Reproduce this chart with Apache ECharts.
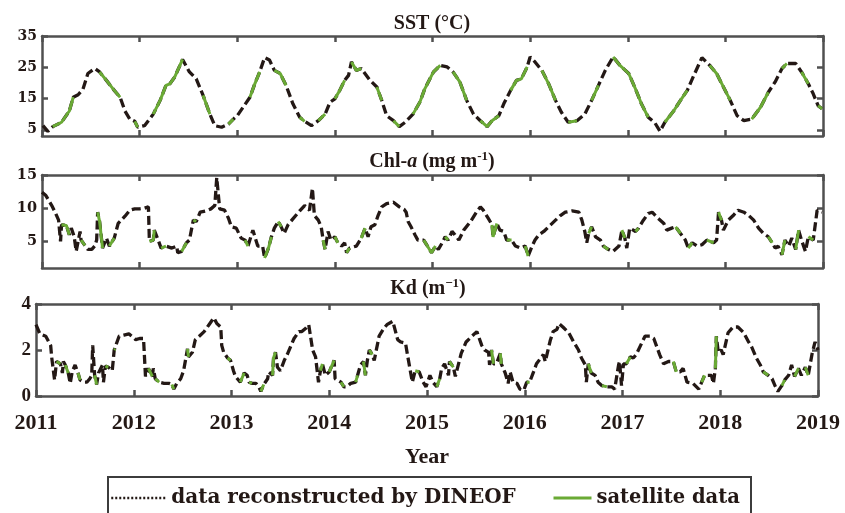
<!DOCTYPE html>
<html>
<head>
<meta charset="utf-8">
<script src="https://cdn.jsdelivr.net/npm/echarts@6/dist/echarts.min.js"></script>
<style>html,body{margin:0;padding:0;background:#fff}#c{width:845px;height:513px}</style>
</head>
<body>
<div id="c"></div>
<script>
// ---------------- DATA ----------------
const yearTicks = [2011, 2012, 2013, 2014, 2015, 2016, 2017, 2018, 2019];
const sstTicks = [5, 15, 25, 35];
const chlTicks = [5, 10, 15];
const kdTicks = [0, 2, 4];

// SST (°C)
const sstYear = [2011.01,2011.06,2011.11,2011.20,2011.28,2011.32,2011.37,2011.42,2011.47,2011.54,2011.59,2011.66,2011.74,2011.80,2011.85,2011.90,2011.95,2011.98,
2012.05,2012.14,2012.21,2012.27,2012.31,2012.36,2012.44,2012.51,2012.58,2012.65,2012.72,2012.77,2012.84,2012.91,2012.96,
2013.00,2013.06,2013.13,2013.18,2013.23,2013.28,2013.33,2013.38,2013.44,2013.50,2013.57,2013.64,2013.69,2013.76,2013.83,2013.90,2013.95,
2014.00,2014.05,2014.10,2014.14,2014.17,2014.22,2014.27,2014.36,2014.43,2014.48,2014.53,2014.60,2014.66,2014.72,2014.80,2014.87,2014.92,
2015.01,2015.08,2015.15,2015.21,2015.28,2015.35,2015.42,2015.49,2015.56,2015.61,2015.68,2015.73,2015.80,2015.86,2015.91,2015.97,
2016.00,2016.05,2016.12,2016.19,2016.26,2016.32,2016.39,2016.48,2016.56,2016.63,2016.70,2016.77,2016.85,2016.92,
2017.01,2017.08,2017.14,2017.21,2017.28,2017.33,2017.38,2017.47,2017.54,2017.61,2017.67,2017.76,2017.84,2017.91,2017.98,
2018.05,2018.12,2018.19,2018.27,2018.36,2018.44,2018.51,2018.58,2018.63,2018.72,2018.78,2018.85,2018.90,2018.95,2018.99];
const sstRecon = [6.3,4.5,6.0,7.4,11.0,15.4,16.2,18.0,23.0,24.6,23.5,20.8,17.6,15.4,11.0,8.4,7.7,5.8,
6.3,10.0,14.4,19.2,19.7,21.9,27.5,23.5,21.3,16.0,10.0,6.3,5.8,6.8,8.4,
9.5,12.2,15.4,19.7,23.5,28.1,27.3,24.0,23.0,19.2,13.3,9.0,7.7,6.3,7.9,10.0,13.8,
14.9,17.6,20.8,22.4,26.7,24.0,24.6,20.8,18.7,14.4,9.5,7.9,6.0,7.4,10.0,13.8,18.0,
23.5,25.6,25.1,23.5,20.3,14.4,10.0,7.9,6.0,7.9,9.5,13.3,17.6,20.8,21.3,25.1,
28.3,26.7,24.0,19.7,14.4,10.6,7.4,7.9,10.0,14.4,19.2,24.0,28.3,25.6,
23.0,18.0,13.3,9.0,7.1,4.5,7.4,11.0,14.4,17.6,21.9,28.1,25.6,23.0,18.7,
14.4,9.5,7.9,8.4,12.2,17.0,20.3,24.6,26.2,26.2,23.5,19.7,16.5,12.7,11.7];
const sstSat = [null,null,6.0,7.4,11.0,15.4,null,null,null,null,23.5,20.8,17.6,15.4,null,null,7.7,5.8,
null,10.0,14.4,19.2,19.7,21.9,27.5,null,null,16.0,10.0,null,null,6.8,8.4,
null,null,15.4,19.7,23.5,null,null,24.0,23.0,19.2,null,9.0,7.7,null,7.9,10.0,null,
14.9,17.6,20.8,null,26.7,24.0,24.6,null,18.7,14.4,null,7.9,6.0,null,10.0,13.8,18.0,
23.5,25.6,null,23.5,20.3,14.4,null,7.9,6.0,7.9,9.5,null,17.6,20.8,21.3,25.1,
null,null,24.0,19.7,14.4,null,7.4,7.9,null,14.4,19.2,null,28.3,25.6,
23.0,18.0,13.3,9.0,null,null,7.4,11.0,14.4,17.6,null,null,25.6,23.0,18.7,
14.4,null,null,8.4,12.2,17.0,null,24.6,26.2,null,23.5,19.7,null,12.7,11.7];

// Chl-a (mg m-1)
const chlYear = [2011.00,2011.04,2011.10,2011.14,2011.17,2011.19,2011.20,2011.25,2011.28,2011.30,2011.33,2011.35,2011.39,2011.40,2011.44,2011.47,2011.51,2011.54,2011.56,2011.57,2011.59,2011.62,2011.66,2011.69,2011.74,2011.78,2011.85,2011.90,2011.95,
2012.00,2012.05,2012.09,2012.10,2012.14,2012.15,2012.19,2012.22,2012.27,2012.33,2012.38,2012.39,2012.43,2012.48,2012.51,2012.55,2012.58,2012.62,2012.68,2012.73,2012.77,2012.79,2012.82,2012.87,2012.91,2012.94,2012.99,
2013.04,2013.08,2013.11,2013.16,2013.21,2013.26,2013.28,2013.32,2013.35,2013.38,2013.42,2013.45,2013.48,2013.52,2013.57,2013.64,2013.69,2013.74,2013.77,2013.79,2013.83,2013.86,2013.88,2013.90,2013.93,2013.96,
2014.00,2014.03,2014.07,2014.10,2014.12,2014.15,2014.22,2014.27,2014.31,2014.34,2014.37,2014.41,2014.44,2014.48,2014.53,2014.60,2014.66,2014.71,2014.73,2014.75,2014.78,2014.82,2014.85,2014.91,2014.94,2014.99,
2015.03,2015.06,2015.10,2015.13,2015.16,2015.20,2015.23,2015.27,2015.32,2015.39,2015.45,2015.49,2015.52,2015.57,2015.61,2015.62,2015.66,2015.69,2015.73,2015.76,2015.81,2015.85,2015.90,2015.95,2015.98,
2016.02,2016.05,2016.09,2016.14,2016.21,2016.26,2016.31,2016.36,2016.43,2016.50,2016.53,2016.56,2016.58,2016.60,2016.63,2016.67,2016.72,2016.75,2016.80,2016.85,2016.91,2016.94,2016.97,2016.99,
2017.02,2017.08,2017.11,2017.16,2017.21,2017.25,2017.31,2017.37,2017.40,2017.45,2017.49,2017.54,2017.59,2017.62,2017.66,2017.71,2017.76,2017.81,2017.88,2017.91,2017.93,2017.96,2017.98,
2018.03,2018.08,2018.13,2018.19,2018.24,2018.29,2018.34,2018.39,2018.44,2018.48,2018.51,2018.54,2018.58,2018.61,2018.65,2018.68,2018.72,2018.75,2018.78,2018.82,2018.85,2018.90,2018.94,2018.99];
const chlRecon = [12.4,11.9,10.4,9.2,8.2,5.0,7.5,7.4,6.0,7.0,5.7,3.5,6.5,5.2,4.4,3.8,3.8,4.3,5.2,9.4,8.0,4.0,5.5,4.3,5.5,7.7,8.8,9.7,9.9,
9.9,10.0,10.2,5.0,5.2,6.7,5.2,4.0,4.3,4.0,4.3,3.3,3.5,4.8,5.2,8.2,8.0,9.4,9.6,9.9,10.4,14.6,9.9,9.7,8.5,7.2,7.0,
5.5,5.2,4.3,6.7,4.3,4.3,2.5,4.0,5.7,7.0,8.0,7.2,6.2,7.5,8.4,9.6,10.4,9.7,13.0,8.9,8.2,7.2,5.2,3.8,6.5,5.2,
5.7,4.8,4.3,4.8,3.3,4.0,4.3,5.5,7.0,5.7,7.2,7.5,8.8,10.2,10.7,10.9,10.2,9.8,9.4,8.0,7.2,6.0,5.2,5.2,4.5,3.3,
4.3,3.8,4.8,5.7,5.2,6.5,6.0,5.2,6.7,8.0,9.4,10.2,9.7,8.5,7.5,5.7,7.7,6.7,6.5,5.2,5.2,4.3,4.0,4.3,2.8,
4.3,5.2,6.0,6.5,7.5,8.2,8.9,9.4,9.6,9.4,8.2,6.5,4.8,6.2,7.2,5.7,5.2,4.3,3.8,3.5,4.3,6.7,5.5,4.0,
7.0,6.5,7.0,8.2,9.2,9.4,8.5,7.7,6.7,7.0,7.2,6.2,5.2,4.0,4.8,4.3,4.5,5.2,4.8,5.2,9.4,8.2,6.7,
8.2,8.9,9.7,9.4,8.9,8.2,7.0,6.2,5.7,4.8,4.0,4.3,3.0,5.2,4.3,5.5,3.8,6.7,5.2,3.5,5.7,5.2,9.7,9.4];
const chlSat = [null,null,null,null,null,null,7.5,7.4,6.0,null,null,null,null,5.2,4.4,null,null,null,null,9.4,8.0,4.0,null,4.3,5.5,null,null,null,null,
null,null,null,5.0,5.2,6.7,null,4.0,4.3,null,null,null,3.5,4.8,null,8.2,8.0,null,null,null,null,null,null,null,null,null,null,
null,5.2,4.3,null,null,null,2.5,4.0,5.7,null,8.0,7.2,null,null,null,null,null,null,null,null,null,null,5.2,3.8,null,null,
5.7,4.8,null,null,3.3,4.0,null,5.5,7.0,null,null,null,null,null,null,null,null,null,null,null,null,null,null,5.2,4.5,3.3,
4.3,null,null,5.7,5.2,null,null,null,null,null,null,null,null,null,7.5,5.7,7.7,null,null,5.2,5.2,null,null,4.3,2.8,
null,null,null,null,null,null,null,null,null,null,null,null,null,6.2,7.2,null,null,4.3,3.8,null,null,6.7,5.5,null,
null,6.5,7.0,null,null,null,null,null,null,null,7.2,6.2,null,4.0,4.8,null,null,5.2,4.8,null,9.4,8.2,null,
null,null,null,null,null,null,null,null,5.7,4.8,null,null,3.0,5.2,null,null,3.8,6.7,null,null,5.7,5.2,null,null];

// Kd (m-1)
const kdYear = [2011.00,2011.04,2011.10,2011.15,2011.16,2011.19,2011.21,2011.25,2011.27,2011.28,2011.30,2011.33,2011.35,2011.37,2011.40,2011.43,2011.45,2011.49,2011.52,2011.55,2011.57,2011.58,2011.60,2011.62,2011.64,2011.68,2011.69,2011.71,2011.74,2011.78,2011.80,2011.81,2011.85,2011.90,2011.95,2011.98,
2012.02,2012.06,2012.10,2012.12,2012.15,2012.19,2012.20,2012.22,2012.26,2012.31,2012.36,2012.39,2012.41,2012.44,2012.48,2012.51,2012.55,2012.56,2012.60,2012.63,2012.67,2012.72,2012.77,2012.82,2012.85,2012.89,2012.90,2012.92,2012.96,2012.99,
2013.02,2013.04,2013.09,2013.13,2013.16,2013.18,2013.21,2013.25,2013.28,2013.30,2013.33,2013.37,2013.38,2013.42,2013.43,2013.45,2013.47,2013.50,2013.54,2013.57,2013.64,2013.69,2013.72,2013.76,2013.79,2013.83,2013.86,2013.89,2013.91,2013.93,2013.96,
2014.00,2014.05,2014.06,2014.12,2014.15,2014.18,2014.22,2014.27,2014.29,2014.32,2014.35,2014.37,2014.39,2014.41,2014.44,2014.46,2014.51,2014.56,2014.59,2014.65,2014.70,2014.73,2014.78,2014.80,2014.85,2014.88,2014.92,2014.96,2014.99,
2015.03,2015.06,2015.10,2015.13,2015.15,2015.18,2015.22,2015.23,2015.27,2015.29,2015.35,2015.40,2015.46,2015.51,2015.56,2015.59,2015.63,2015.64,2015.66,2015.68,2015.71,2015.75,2015.76,2015.80,2015.83,2015.85,2015.88,2015.92,2015.95,2015.99,
2016.02,2016.05,2016.09,2016.12,2016.19,2016.21,2016.26,2016.29,2016.33,2016.35,2016.39,2016.45,2016.50,2016.55,2016.58,2016.62,2016.63,2016.65,2016.68,2016.72,2016.75,2016.79,2016.84,2016.89,2016.92,2016.94,2016.96,2016.97,2016.99,
2017.01,2017.04,2017.08,2017.11,2017.14,2017.23,2017.28,2017.32,2017.38,2017.42,2017.47,2017.52,2017.55,2017.59,2017.62,2017.66,2017.72,2017.78,2017.81,2017.84,2017.91,2017.93,2017.95,2017.96,2017.98,
2018.01,2018.03,2018.08,2018.13,2018.18,2018.24,2018.29,2018.32,2018.37,2018.41,2018.44,2018.49,2018.53,2018.56,2018.59,2018.63,2018.66,2018.70,2018.73,2018.76,2018.80,2018.83,2018.87,2018.90,2018.94,2018.97,2019.00];
const kdRecon = [3.1,2.7,2.6,2.2,1.7,0.7,1.5,1.4,1.0,1.5,1.35,1.0,0.55,1.05,1.35,1.0,0.7,0.6,0.6,0.75,0.9,2.2,0.9,0.5,1.0,1.35,0.6,1.3,1.25,1.1,2.0,2.05,2.6,2.65,2.7,2.6,
2.45,2.5,2.5,0.85,1.2,0.85,1.2,0.75,0.6,0.55,0.55,0.5,0.3,0.55,0.75,1.1,2.05,1.7,1.9,2.45,2.6,2.8,3.1,3.4,3.15,3.0,2.2,1.9,1.65,1.55,
1.1,0.85,0.6,1.0,0.9,0.6,0.55,0.55,0.4,0.2,0.5,0.75,1.05,0.9,1.65,1.9,1.25,1.1,1.55,1.8,2.5,2.8,2.8,2.95,3.1,2.0,1.7,0.6,1.1,1.4,0.9,
1.05,1.55,0.75,0.6,0.4,0.4,0.55,0.6,0.9,1.35,1.5,0.9,1.55,2.0,1.8,1.55,2.6,2.95,3.1,3.25,2.45,2.35,2.3,1.8,0.6,1.1,1.05,0.6,0.4,
0.9,0.6,0.4,0.75,1.2,1.4,0.9,1.5,1.25,0.85,1.85,2.35,2.6,2.8,2.2,2.0,1.9,1.35,2.0,1.4,1.4,1.85,1.4,1.0,0.55,1.05,0.6,0.55,0.3,0.25,
0.6,0.6,1.05,1.4,1.8,1.5,2.4,2.8,2.9,3.15,3.0,2.75,2.35,2.0,1.65,1.35,0.6,1.4,1.0,0.9,0.6,0.45,0.4,0.4,0.3,0.25,1.35,1.5,0.45,
1.4,1.4,1.7,1.65,1.8,2.6,2.6,2.5,1.8,1.4,1.5,1.5,1.05,1.05,1.2,0.6,0.55,0.3,0.6,0.9,0.9,0.55,1.2,2.6,1.9,
2.0,1.8,2.75,3.0,3.0,2.75,2.35,2.15,1.65,1.35,1.05,0.9,0.75,0.45,0.2,0.45,0.7,0.9,1.35,0.85,1.2,0.9,1.25,0.9,1.85,2.35,2.0];
const kdSat = [null,null,null,null,null,null,1.5,1.4,null,null,1.35,1.0,null,null,null,1.0,0.7,null,null,null,null,null,0.9,0.5,null,null,null,1.3,1.25,null,2.0,2.05,null,null,null,null,
null,null,null,null,1.2,0.85,null,0.75,0.6,null,null,0.5,0.3,null,null,null,2.05,1.7,null,null,null,null,null,null,null,null,null,null,1.65,1.55,
null,null,0.6,1.0,null,0.6,0.55,null,null,0.2,0.5,null,null,0.9,1.65,1.9,null,null,null,null,null,null,null,null,null,null,null,null,1.1,1.4,null,
1.05,1.55,null,0.6,0.4,null,null,0.6,0.9,null,1.5,0.9,null,2.0,1.8,null,null,null,null,null,null,null,null,null,null,1.1,1.05,null,null,
null,null,0.4,0.75,null,null,null,1.5,1.25,null,null,null,null,null,null,null,null,null,2.0,1.4,null,1.85,1.4,null,null,null,null,null,null,null,
0.6,0.6,null,null,null,null,null,null,null,null,null,null,null,null,null,null,null,1.4,1.0,null,null,0.45,0.4,null,null,null,null,null,null,
null,1.4,1.7,null,null,null,null,null,null,null,null,1.5,1.05,null,null,null,null,null,0.6,0.9,null,null,1.2,2.6,null,
null,null,null,null,null,null,null,null,null,null,1.05,0.9,null,null,null,0.45,0.7,null,null,0.85,1.2,null,1.25,0.9,null,null,null];

// ---------------- CHART ----------------
const SERIF = '"Liberation Serif", "Times New Roman", serif';
const WIDE = '"DejaVu Serif", serif';
const INK = '#231815';
const FRAME = '#505050';
const GREEN = '#6aaa35';
const RECON = 'data reconstructed by DINEOF';
const SAT = 'satellite data';

const panels = [
  {t: sstYear, r: sstRecon, s: sstSat, min: 3, max: 35, ticks: sstTicks,
   grid: {left: 42, right: 22, top: 36, height: 100}, lf: {fontFamily: WIDE, fontSize: 14}},
  {t: chlYear, r: chlRecon, s: chlSat, min: 1, max: 15, ticks: chlTicks,
   grid: {left: 42, right: 22, top: 175, height: 93}, lf: {fontFamily: WIDE, fontSize: 14.5}},
  {t: kdYear, r: kdRecon, s: kdSat, min: 0, max: 4, ticks: kdTicks,
   grid: {left: 36, right: 27, top: 304, height: 92}, lf: {fontFamily: SERIF, fontSize: 19}}
];

const lineAx = {show: true, onZero: false, lineStyle: {color: FRAME, width: 2.5}};
const tickAx = {show: true, inside: true, length: 6, lineStyle: {color: FRAME, width: 2.5}};

const grid = [], xAxis = [], yAxis = [], series = [];
panels.forEach((p, i) => {
  grid.push(Object.assign({containLabel: false}, p.grid));
  const last = i === panels.length - 1;
  xAxis.push({
    type: 'value', gridIndex: i, min: yearTicks[0], max: yearTicks[yearTicks.length - 1], interval: 1,
    position: 'bottom', axisLine: lineAx, axisTick: tickAx, splitLine: {show: false},
    axisLabel: {show: last, margin: 16, color: INK, fontFamily: SERIF, fontWeight: 'bold', fontSize: 22,
      formatter: v => String(v)},
    name: last ? 'Year' : '', nameLocation: 'middle', nameGap: 50,
    nameTextStyle: {color: INK, fontFamily: SERIF, fontWeight: 'bold', fontSize: 22}
  });
  xAxis.push({
    type: 'value', gridIndex: i, min: yearTicks[0], max: yearTicks[yearTicks.length - 1], interval: 1,
    position: 'top', axisLine: lineAx, axisTick: tickAx, splitLine: {show: false}, axisLabel: {show: false}
  });
  yAxis.push({
    type: 'value', gridIndex: i, min: p.min, max: p.max, position: 'left',
    axisLine: lineAx, axisTick: Object.assign({customValues: p.ticks}, tickAx), splitLine: {show: false},
    axisLabel: {show: true, customValues: p.ticks, margin: 5, color: INK, fontWeight: 'bold',
      fontFamily: p.lf.fontFamily, fontSize: p.lf.fontSize}
  });
  yAxis.push({
    type: 'value', gridIndex: i, min: p.min, max: p.max, position: 'right',
    axisLine: lineAx, axisTick: Object.assign({customValues: p.ticks}, tickAx), splitLine: {show: false},
    axisLabel: {show: false}
  });
  series.push({
    name: RECON, type: 'line', xAxisIndex: 2 * i, yAxisIndex: 2 * i, symbol: 'none', z: 2,
    lineStyle: {color: INK, width: 3.3, type: [9, 4], cap: 'butt'}, itemStyle: {color: INK},
    data: p.t.map((t, k) => [t, p.r[k]])
  });
  series.push({
    name: SAT, type: 'line', xAxisIndex: 2 * i, yAxisIndex: 2 * i, symbol: 'none', z: 3,
    connectNulls: false,
    lineStyle: {color: GREEN, width: 3, type: 'solid'}, itemStyle: {color: GREEN},
    data: p.t.map((t, k) => [t, p.s[k] == null ? '-' : p.s[k]])
  });
});

const titleText = (x, y, text, rich) => ({
  type: 'text', x: x, y: y, silent: true,
  style: {text: text, align: 'center', verticalAlign: 'middle', fill: INK, rich: rich,
    font: 'bold 20px ' + SERIF}
});
const baseRich = {
  n: {fontFamily: SERIF, fontWeight: 'bold', fontSize: 20, fill: INK, lineHeight: 24},
  i: {fontFamily: SERIF, fontWeight: 'bold', fontStyle: 'italic', fontSize: 20, fill: INK, lineHeight: 24},
  s: {fontFamily: SERIF, fontWeight: 'bold', fontSize: 13, fill: INK, verticalAlign: 'top', lineHeight: 13}
};

const hiddenSymbol = {color: 'rgba(0,0,0,0)', borderWidth: 0, borderColor: 'rgba(0,0,0,0)'};

const option = {
  animation: false,
  backgroundColor: '#ffffff',
  grid, xAxis, yAxis, series,
  legend: [
    {data: [{name: RECON, itemStyle: hiddenSymbol}], left: 110, top: 488, itemWidth: 55, itemHeight: 18, itemGap: 0, itemTextGap: 9,
     padding: 0, selectedMode: false,
     itemStyle: hiddenSymbol,
     lineStyle: {color: INK, width: 2.5, type: [2, 2]},
     textStyle: {color: INK, fontFamily: WIDE, fontWeight: 'bold', fontSize: 20}},
    {data: [{name: SAT, itemStyle: hiddenSymbol}], left: 552, top: 488, itemWidth: 38, itemHeight: 18, itemGap: 0, itemTextGap: 13,
     padding: 0, selectedMode: false,
     itemStyle: hiddenSymbol,
     lineStyle: {color: GREEN, width: 3, type: 'solid'},
     textStyle: {color: INK, fontFamily: WIDE, fontWeight: 'bold', fontSize: 19.5}}
  ],
  graphic: [
    {type: 'rect', silent: true, shape: {x: 108, y: 477, width: 643, height: 50},
     style: {fill: 'none', stroke: '#3c3c3c', lineWidth: 2}},
    titleText(432, 24, 'SST (°C)'),
    titleText(432, 162, '{n|Chl-}{i|a}{n| (mg m}{s|-1}{n|)}', baseRich),
    titleText(428, 289, '{n|Kd (m}{s|\u22121}{n|)}', baseRich)
  ]
};

const chart = echarts.init(document.getElementById('c'), null, {renderer: 'canvas'});
chart.setOption(option);
</script>
</body>
</html>
